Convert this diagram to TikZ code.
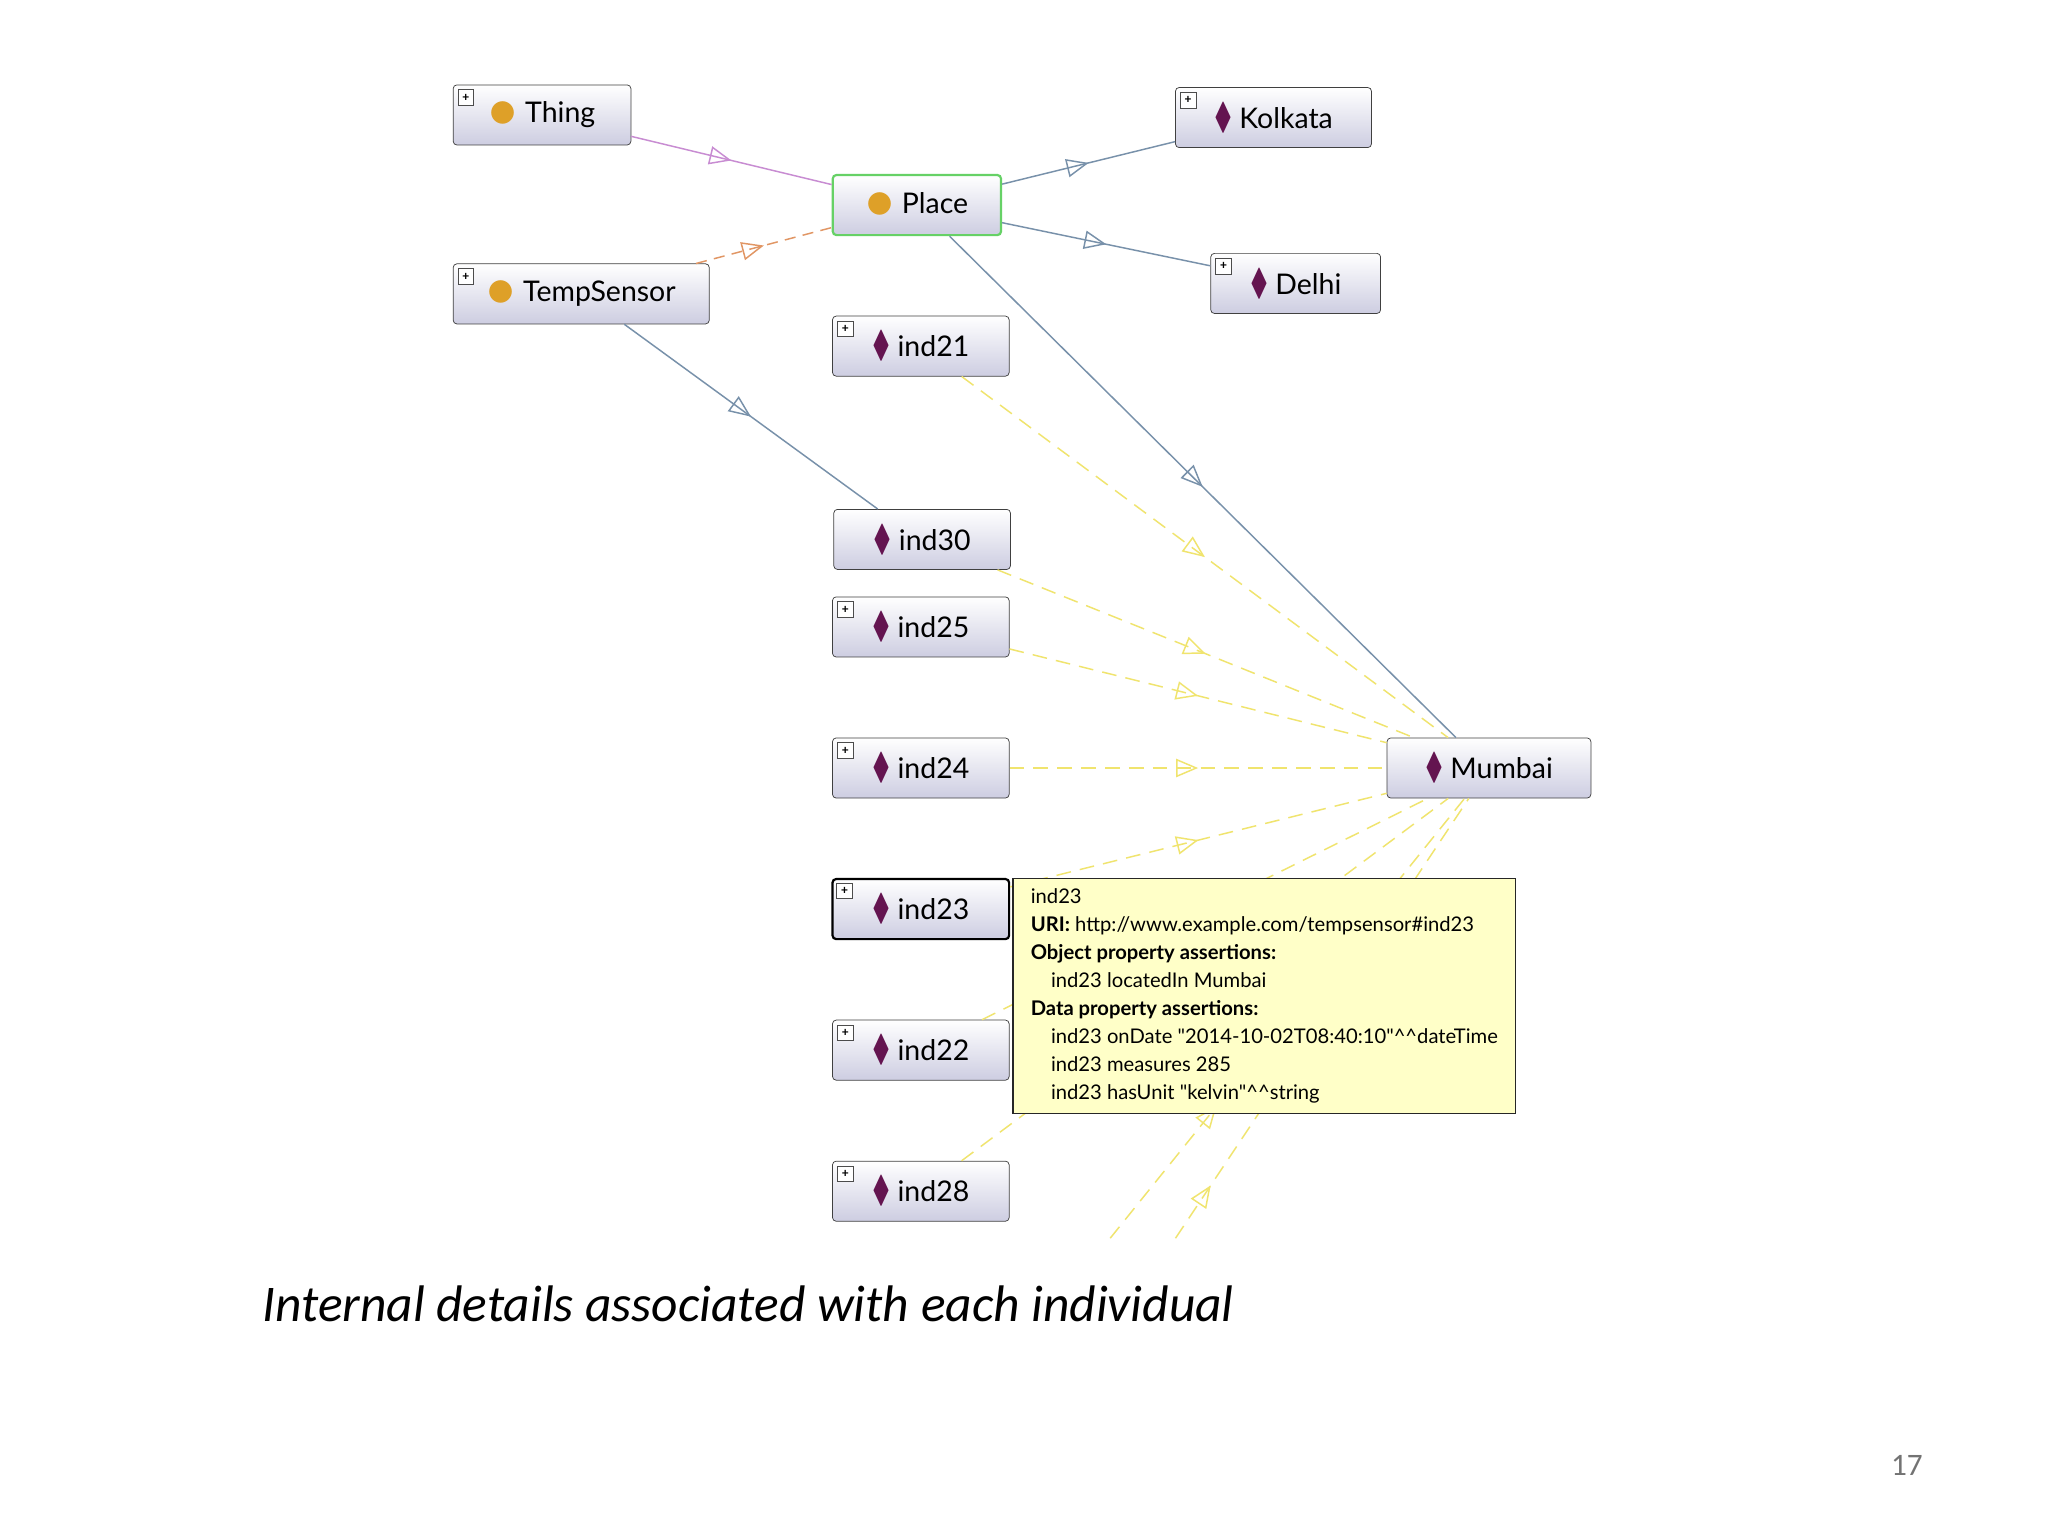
\documentclass[tikz,border=0pt]{standalone}
\usepackage{fontspec}
\usepackage{amssymb}
\setmainfont{Carlito}
\newfontfamily\owlfont{Lato}
\usetikzlibrary{arrows.meta,decorations.markings,positioning}

\definecolor{dotorange}{RGB}{222,160,40}
\definecolor{indpurple}{RGB}{100,20,80}
\definecolor{edgeblue}{RGB}{120,145,170}
\definecolor{edgepurple}{RGB}{200,140,210}
\definecolor{edgeorange}{RGB}{225,150,100}
\definecolor{edgeyellow}{RGB}{240,228,110}
\definecolor{tipyellow}{RGB}{255,255,200}
\definecolor{boxbottom}{RGB}{205,205,225}

\newcommand{\clsicon}{\textcolor{dotorange}{\raisebox{-0.35ex}{\scalebox{2.2}{$\bullet$}}}}
\newcommand{\indicon}{\textcolor{indpurple}{\scalebox{0.95}[1.3]{$\blacklozenge$}}}

\begin{document}
\begin{tikzpicture}[x=0.025cm,y=-0.025cm,
  entity/.style = {rectangle, draw=black!75, rounded corners=2pt, top color=white, bottom color=boxbottom,
                   font=\owlfont\fontsize{15.5}{15.5}\selectfont, minimum height=1.15cm, anchor=center, inner xsep=6pt},
  plus/.style = {rectangle, draw=black!70, fill=white, minimum size=0.3cm, inner sep=0pt, font=\bfseries\scriptsize},
  midarrow/.style = {postaction={decorate}, decoration={markings,
                   mark=at position #1 with {\arrow[fill=white,solid]{Triangle[open,length=12pt,width=10pt]}}}},
  midarrow/.default = 0.5,
  subclass/.style = {edgeblue, thick, midarrow},
  instance/.style = {edgeyellow, thick, dash pattern=on 8pt off 5pt, midarrow=#1},
  instance/.default = 0.55
]
\useasboundingbox (0,0) rectangle (1568,1176);
\fill[white] (0,0) rectangle (1568,1176);

% Classes
\node[entity, minimum width=3.4cm] at (415,88) (thing) {\clsicon\ Thing};
\node[entity, minimum width=3.22cm, draw=green!70!black!60, very thick] at (702,157) (place) {\clsicon\ Place};
\node[entity, minimum width=4.9cm] at (445,225) (tempsensor) {\clsicon\ TempSensor};

% Individuals
\node[entity, minimum width=3.75cm] at (975,90) (kolkata) {\indicon\ Kolkata};
\node[entity, minimum width=3.25cm] at (992,217) (delhi) {\indicon\ Delhi};
\node[entity, minimum width=3.9cm] at (1140,588) (mumbai) {\indicon\ Mumbai};
\node[entity, minimum width=3.38cm] at (705,265) (ind21) {\indicon\ ind21};
\node[entity, minimum width=3.38cm] at (706,413) (ind30) {\indicon\ ind30};
\node[entity, minimum width=3.38cm] at (705,480) (ind25) {\indicon\ ind25};
\node[entity, minimum width=3.38cm] at (705,588) (ind24) {\indicon\ ind24};
\node[entity, minimum width=3.38cm, very thick, draw=black] at (705,696) (ind23) {\indicon\ ind23};
\node[entity, minimum width=3.38cm] at (705,804) (ind22) {\indicon\ ind22};
\node[entity, minimum width=3.38cm] at (705,912) (ind28) {\indicon\ ind28};

% Expand boxes
\foreach \n in {thing,tempsensor,kolkata,delhi,ind21,ind25,ind24,ind23,ind22,ind28}
  \node[plus] at ([xshift=0.25cm,yshift=-0.25cm]\n.north west) {+};

% Instance edges
\draw[instance=0.5] (ind21) -- (mumbai);
\draw[instance=0.5] (ind30) -- (mumbai);
\draw[instance=0.5] (ind25) -- (mumbai);
\draw[instance=0.5] (ind24) -- (mumbai);
\draw[instance=0.5] (ind23) -- (mumbai);
\draw[instance=0.5] (ind22) -- (mumbai);
\draw[instance=0.5] (ind28) -- (mumbai);
\coordinate (off1) at (850,948);
\coordinate (off2) at (900,948);
\draw[instance=0.3] (off1) -- (mumbai);
\draw[instance=0.12] (off2) -- (mumbai);

% Subclass edges
\draw[edgepurple, thick, midarrow] (thing) -- (place);
\draw[edgeorange, thick, dash pattern=on 6pt off 4pt, midarrow] (tempsensor) -- (place);
\draw[subclass] (place) -- (kolkata);
\draw[subclass] (place) -- (delhi);
\draw[subclass] ([xshift=0.825cm]tempsensor.south) -- ([xshift=-0.85cm]ind30.north);
\draw[subclass] ([xshift=0.625cm]place.south) -- ([xshift=1.325cm]mumbai.north west);

% Tooltip
\node[draw=black!85, thick, fill=tipyellow, anchor=north west, align=left, inner sep=4pt,
      minimum width=9.62cm, minimum height=4.5cm, font=\owlfont\fontsize{11}{15.3}\selectfont]
  at (775,672) (tooltip) {ind23\\
  \textbf{URI:} http://www.example.com/tempsensor\#ind23\\
  \textbf{Object property assertions:}\\
  \quad ind23 locatedIn Mumbai\\
  \textbf{Data property assertions:}\\
  \quad ind23 onDate "2014-10-02T08:40:10"\^{}\^{}dateTime\\
  \quad ind23 measures 285\\
  \quad ind23 hasUnit "kelvin"\^{}\^{}string};

% Caption and page number
\node[anchor=west, font=\fontsize{28}{28}\selectfont\itshape] at (196,998) (caption) {Internal details associated with each individual};
\node[font=\fontsize{17}{17}\selectfont, text=black!55] at (1460,1122) (pagenum) {17};
\end{tikzpicture}
\end{document}
